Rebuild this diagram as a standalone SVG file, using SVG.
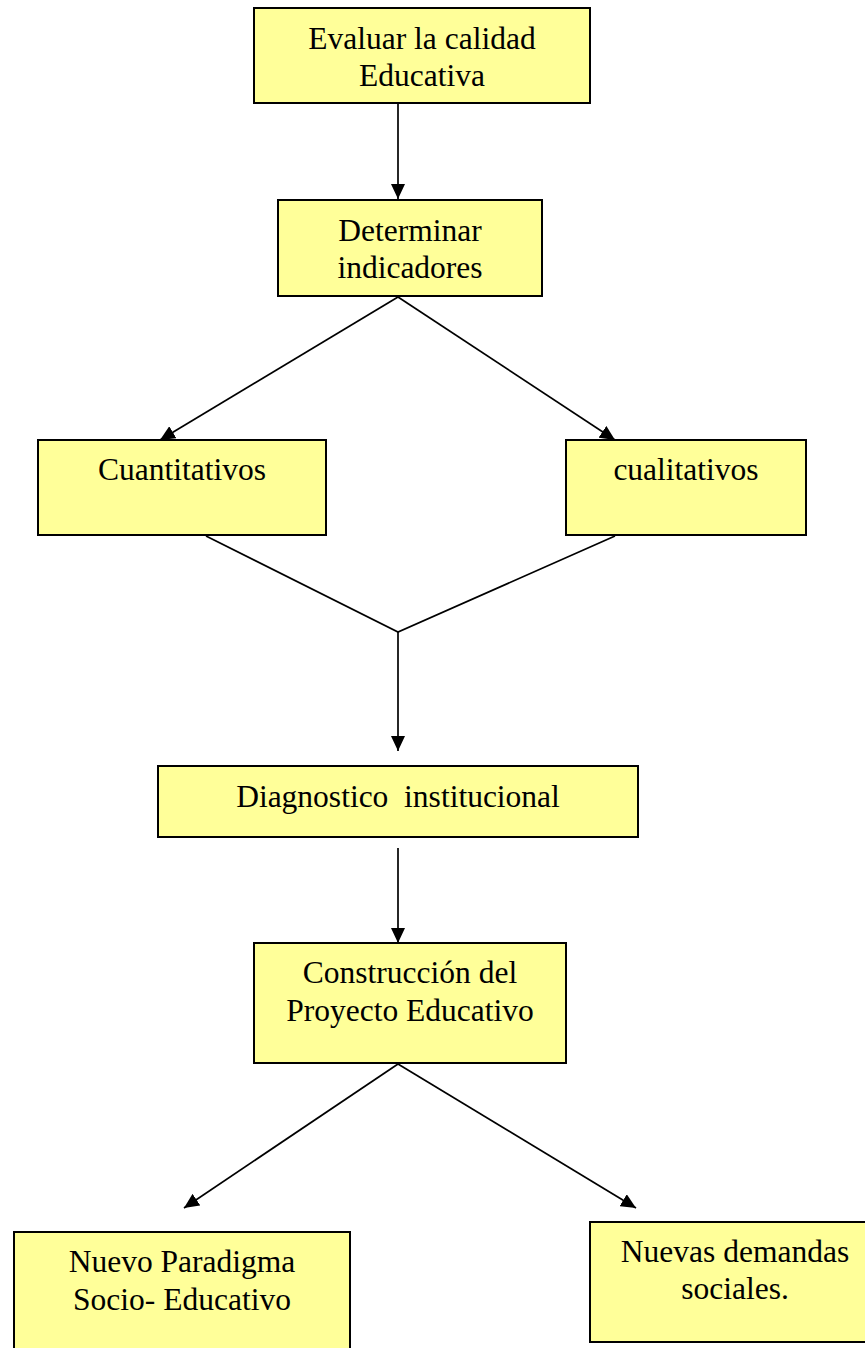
<svg xmlns="http://www.w3.org/2000/svg" width="865" height="1348" viewBox="0 0 865 1348">
  <style>
    .box { fill: #ffff99; stroke: #000; stroke-width: 2; }
    .lbl { font-family: "Liberation Serif", "Times New Roman", serif; font-size: 31.5px; fill: #000; text-anchor: middle; }
    .edge { stroke: #000; stroke-width: 1.7; fill: none; }
  </style>
  <defs>
    <marker id="arrow" viewBox="0 0 15 14" refX="15" refY="7" markerWidth="15" markerHeight="14" markerUnits="userSpaceOnUse" orient="auto">
      <path d="M0,0 L15,7 L0,14 Z" fill="#000"/>
    </marker>
  </defs>

  <g id="connectors">
    <line class="edge" x1="398" y1="104" x2="398" y2="199" marker-end="url(#arrow)"/>
    <line class="edge" x1="398" y1="297" x2="160" y2="440" marker-end="url(#arrow)"/>
    <line class="edge" x1="398" y1="297" x2="615" y2="440" marker-end="url(#arrow)"/>
    <polyline class="edge" points="206,536 398,632 615,536"/>
    <line class="edge" x1="398" y1="632" x2="398" y2="751" marker-end="url(#arrow)"/>
    <line class="edge" x1="398" y1="848" x2="398" y2="943" marker-end="url(#arrow)"/>
    <line class="edge" x1="398" y1="1064" x2="184" y2="1208" marker-end="url(#arrow)"/>
    <line class="edge" x1="398" y1="1064" x2="636" y2="1208" marker-end="url(#arrow)"/>
  </g>

  <g id="evaluar">
    <rect class="box" x="254" y="8" width="336" height="95"/>
    <text class="lbl" x="422" y="49">Evaluar la calidad</text>
    <text class="lbl" x="422" y="86">Educativa</text>
  </g>

  <g id="determinar">
    <rect class="box" x="278" y="200" width="264" height="96"/>
    <text class="lbl" x="410" y="241">Determinar</text>
    <text class="lbl" x="410" y="278">indicadores</text>
  </g>

  <g id="cuantitativos">
    <rect class="box" x="38" y="440" width="288" height="95"/>
    <text class="lbl" x="182" y="480">Cuantitativos</text>
  </g>

  <g id="cualitativos">
    <rect class="box" x="566" y="440" width="240" height="95"/>
    <text class="lbl" x="686" y="480">cualitativos</text>
  </g>

  <g id="diagnostico">
    <rect class="box" x="158" y="766" width="480" height="71"/>
    <text class="lbl" x="398" y="807" xml:space="preserve">Diagnostico  institucional</text>
  </g>

  <g id="construccion">
    <rect class="box" x="254" y="943" width="312" height="120"/>
    <text class="lbl" x="410" y="983">Construcción del</text>
    <text class="lbl" x="410" y="1021">Proyecto Educativo</text>
  </g>

  <g id="paradigma">
    <rect class="box" x="14" y="1232" width="336" height="130"/>
    <text class="lbl" x="182" y="1272">Nuevo Paradigma</text>
    <text class="lbl" x="182" y="1310">Socio- Educativo</text>
  </g>

  <g id="demandas">
    <rect class="box" x="590" y="1222" width="290" height="120"/>
    <text class="lbl" x="735" y="1262">Nuevas demandas</text>
    <text class="lbl" x="735" y="1299">sociales.</text>
  </g>
</svg>
